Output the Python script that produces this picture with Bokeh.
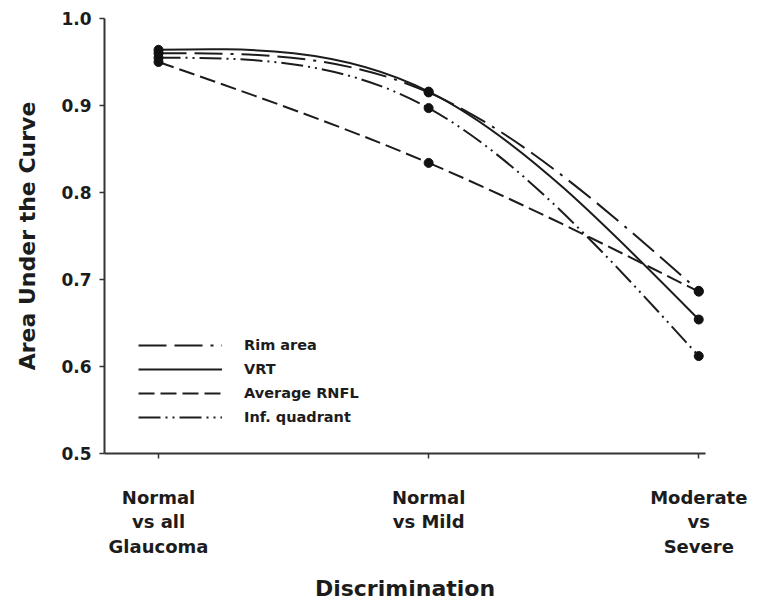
import numpy as np
from bokeh.plotting import figure
from bokeh.models import FixedTicker, Legend, LegendItem, Range1d, ColumnDataSource
from bokeh.embed import file_html
from bokeh.resources import INLINE

# ---- data ----
categories = ["Normal\nvs all\nGlaucoma", "Normal\nvs Mild", "Moderate\nvs\nSevere"]
x_pos = [0, 1, 2]
rim_area = [0.960, 0.915, 0.687]
vrt = [0.964, 0.916, 0.654]
average_rnfl = [0.950, 0.834, 0.686]
inf_quadrant = [0.955, 0.897, 0.612]
y_ticks = [0.5, 0.6, 0.7, 0.8, 0.9, 1.0]

series = [
    ("Rim area", rim_area, "28 8 28 8 3 8"),
    ("VRT", vrt, "solid"),
    ("Average RNFL", average_rnfl, "16 6"),
    ("Inf. quadrant", inf_quadrant, "22 5 2 5 2 5"),
]


def natural_spline_beziers(xs, ys):
    """Natural cubic spline through the data points, expressed as Bezier segments."""
    x = np.asarray(xs, float)
    y = np.asarray(ys, float)
    n = len(x)
    h = np.diff(x)
    A = np.zeros((n, n))
    b = np.zeros(n)
    A[0, 0] = 1
    A[-1, -1] = 1
    for i in range(1, n - 1):
        A[i, i - 1] = h[i - 1]
        A[i, i] = 2 * (h[i - 1] + h[i])
        A[i, i + 1] = h[i]
        b[i] = 6 * ((y[i + 1] - y[i]) / h[i] - (y[i] - y[i - 1]) / h[i - 1])
    M = np.linalg.solve(A, b)
    d = np.zeros(n)
    for i in range(n - 1):
        d[i] = (y[i + 1] - y[i]) / h[i] - h[i] * (2 * M[i] + M[i + 1]) / 6
    d[-1] = (y[-1] - y[-2]) / h[-1] + h[-1] * (M[-2] + 2 * M[-1]) / 6
    return dict(x0=x[:-1], y0=y[:-1], x1=x[1:], y1=y[1:],
                cx0=x[:-1] + h / 3, cy0=y[:-1] + d[:-1] * h / 3,
                cx1=x[1:] - h / 3, cy1=y[1:] - d[1:] * h / 3)


FONT = "DejaVu Sans"
INK = "#1c1c1c"

p = figure(width=749, height=606, output_backend="svg", toolbar_location=None,
           x_range=Range1d(-0.2, 2.025), y_range=Range1d(0.5, 1.0),
           min_border_left=104, min_border_right=44, min_border_top=18,
           min_border_bottom=153)
p.outline_line_color = None
p.grid.visible = False
p.background_fill_color = "white"

items = []
for name, vals, dash in series:
    src = ColumnDataSource(natural_spline_beziers(x_pos, vals))
    r = p.bezier(x0="x0", y0="y0", x1="x1", y1="y1", cx0="cx0", cy0="cy0",
                 cx1="cx1", cy1="cy1", source=src, line_color=INK,
                 line_width=2, line_dash=dash)
    p.scatter(x_pos, vals, size=9, color="#111111")
    items.append(LegendItem(label=name, renderers=[r]))

legend = Legend(items=items, location=(34, 26), padding=0, margin=0,
                border_line_color=None, background_fill_alpha=0,
                glyph_width=84, glyph_height=20, label_height=20, spacing=4,
                label_standoff=22, label_text_font=FONT,
                label_text_font_style="bold", label_text_font_size="14.5px",
                label_text_color=INK)
p.add_layout(legend)

# x axis
p.xaxis.ticker = FixedTicker(ticks=x_pos)
p.xaxis.major_label_overrides = {x: c for x, c in zip(x_pos, categories)}
p.xaxis.axis_label = "Discrimination"
p.xaxis.major_label_standoff = 28
p.xaxis.axis_label_standoff = 16
p.xaxis.major_label_text_line_height = 1.17

# y axis
p.yaxis.ticker = FixedTicker(ticks=y_ticks)
p.yaxis.major_label_overrides = {t: f"{t:.1f}" for t in y_ticks}
p.yaxis.axis_label = "Area Under the Curve"
p.yaxis.major_label_standoff = 8
p.yaxis.axis_label_standoff = 18

for ax in (p.xaxis, p.yaxis):
    ax.axis_line_width = 2
    ax.axis_line_color = "#333333"
    ax.major_tick_line_color = "#333333"
    ax.major_tick_line_width = 1.5
    ax.major_tick_out = 5
    ax.major_tick_in = 0
    ax.minor_tick_line_color = None
    ax.major_label_text_font = FONT
    ax.major_label_text_font_style = "bold"
    ax.major_label_text_color = INK
    ax.axis_label_text_font = FONT
    ax.axis_label_text_font_style = "bold"
    ax.axis_label_text_font_size = "22px"
    ax.axis_label_text_color = INK

p.xaxis.major_label_text_font_size = "18px"
p.yaxis.major_label_text_font_size = "17px"

open("out.html", "w").write(file_html(p, INLINE))
